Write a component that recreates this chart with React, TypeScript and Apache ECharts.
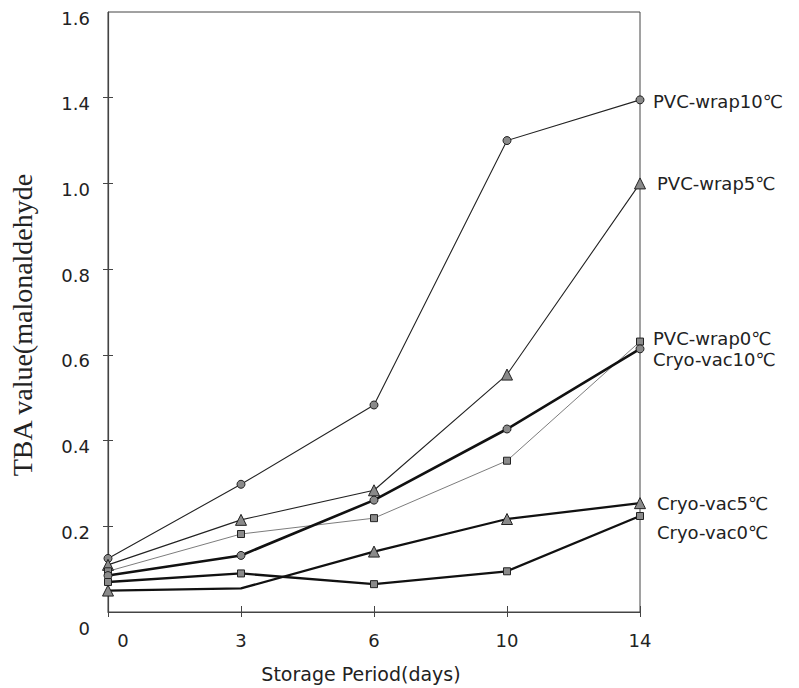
import React, { useEffect, useRef } from "react";
import * as echarts from "echarts";

const days = ["0", "3", "6", "10", "14"];
const yTickLabels = ["0", "0.2", "0.4", "0.6", "0.8", "1.0", "1.4", "1.6"];

const pvcWrap10 = [0.125, 0.298, 0.483, 1.1, 1.195];
const pvcWrap5 = [0.11, 0.215, 0.284, 0.554, 1.0];
const pvcWrap0 = [0.095, 0.182, 0.219, 0.353, 0.631];
const cryoVac10 = [0.085, 0.132, 0.261, 0.427, 0.614];
const cryoVac5 = [0.05, 0.055, 0.141, 0.217, 0.254];
const cryoVac0 = [0.07, 0.09, 0.065, 0.095, 0.224];

const seriesDefs = [
  { name: "PVC-wrap10℃", data: pvcWrap10, symbol: "circle", size: 8, width: 1.1, color: "#222", dy: 2, dx: 13 },
  { name: "PVC-wrap5℃", data: pvcWrap5, symbol: "triangle", size: 11, width: 1.1, color: "#222", dy: 0, dx: 17 },
  { name: "PVC-wrap0℃", data: pvcWrap0, symbol: "rect", size: 7, width: 0.7, color: "#444", dy: -3, dx: 13 },
  { name: "Cryo-vac10℃", data: cryoVac10, symbol: "circle", size: 8, width: 2.6, color: "#111", dy: 11, dx: 13 },
  { name: "Cryo-vac5℃", data: cryoVac5, symbol: "triangle", size: 11, width: 2.3, color: "#111", dy: 0, dx: 17, hideAt: 1 },
  { name: "Cryo-vac0℃", data: cryoVac0, symbol: "rect", size: 7, width: 2.3, color: "#111", dy: 16, dx: 17 },
];

const textFont = "DejaVu Sans";

export default function App() {
  const ref = useRef<HTMLDivElement>(null);
  useEffect(() => {
    if (!ref.current) return;
    document.body.style.margin = "0";
    const chart = echarts.init(ref.current, null, { renderer: "svg" });
    const axisColor = "#444";
    const yTicks = [0.2, 0.4, 0.6, 0.8, 1.0, 1.2];
    const labelRich = (pad: number[]) => ({ padding: pad, fontSize: 18, fontFamily: textFont, color: "#222" });
    chart.setOption({
      animation: false,
      backgroundColor: "#fff",
      grid: {
        left: 108,
        top: 12,
        right: 159,
        bottom: 70,
        show: true,
        borderColor: axisColor,
        borderWidth: 1,
        backgroundColor: "transparent",
      },
      xAxis: [
        {
          type: "category",
          data: days,
          boundaryGap: false,
          axisLine: { lineStyle: { color: axisColor, width: 1.2 } },
          axisTick: { show: true, inside: false, length: 5, lineStyle: { color: axisColor } },
          axisLabel: {
            margin: 19,
            color: "#222",
            fontSize: 18,
            fontFamily: textFont,
            formatter: (v: string, i: number) => (i === 0 ? "{z|" + v + "}" : v),
            rich: { z: labelRich([0, 0, 0, 30]) },
          },
          splitLine: { show: false },
          name: "Storage Period(days)",
          nameLocation: "middle",
          nameGap: 52,
          nameTextStyle: { fontSize: 19, fontFamily: textFont, color: "#222", padding: [0, 26, 0, 0] },
        },
        {
          type: "category",
          data: days,
          boundaryGap: false,
          position: "bottom",
          axisLine: { show: false },
          axisTick: { show: true, inside: true, length: 6, lineStyle: { color: axisColor } },
          axisLabel: { show: false },
          splitLine: { show: false },
        },
      ],
      yAxis: [
        {
          type: "value",
          min: 0,
          max: 1.4,
          interval: 0.2,
          axisLine: { show: true, lineStyle: { color: axisColor, width: 1.2 } },
          axisTick: { show: true, inside: false, length: 5, lineStyle: { color: axisColor }, customValues: yTicks },
          axisLabel: {
            margin: 18,
            color: "#222",
            fontSize: 18,
            fontFamily: textFont,
            formatter: (v: number) => {
              const i = Math.round(v / 0.2);
              return i === 0 ? "{z|0}" : "{n|" + yTickLabels[i] + "}";
            },
            rich: { z: labelRich([32, 0, 0, 0]), n: labelRich([12, 0, 0, 0]) },
          },
          splitLine: { show: false },
          name: "TBA value(malonaldehyde",
          nameLocation: "middle",
          nameRotate: 90,
          nameGap: 72,
          nameTextStyle: {
            fontSize: 28,
            fontFamily: "Liberation Serif",
            color: "#222",
            padding: [0, 26, 0, 0],
          },
        },
        {
          type: "value",
          min: 0,
          max: 1.4,
          interval: 0.2,
          position: "left",
          axisLine: { show: false },
          axisTick: { show: true, inside: true, length: 5, lineStyle: { color: axisColor }, customValues: yTicks },
          axisLabel: { show: false },
          splitLine: { show: false },
        },
      ],
      series: seriesDefs.map((s) => ({
        type: "line",
        name: s.name,
        xAxisIndex: 0,
        yAxisIndex: 0,
        data: s.data.map((v, i) => (s.hideAt === i ? { value: v, symbol: "none" } : v)),
        symbol: s.symbol,
        symbolSize: s.size,
        showAllSymbol: true,
        lineStyle: { color: s.color, width: s.width },
        itemStyle: { color: "#8a8a8a", borderColor: "#222", borderWidth: 1 },
        endLabel: {
          show: true,
          formatter: s.name,
          color: "#222",
          fontSize: 18,
          fontFamily: textFont,
          distance: 0,
          offset: [s.dx, s.dy],
        },
        emphasis: { disabled: true },
        z: s.width > 2 ? 3 : 2,
      })),
    });
    return () => chart.dispose();
  }, []);
  return <div ref={ref} style={{ width: 799, height: 688 }} />;
}
